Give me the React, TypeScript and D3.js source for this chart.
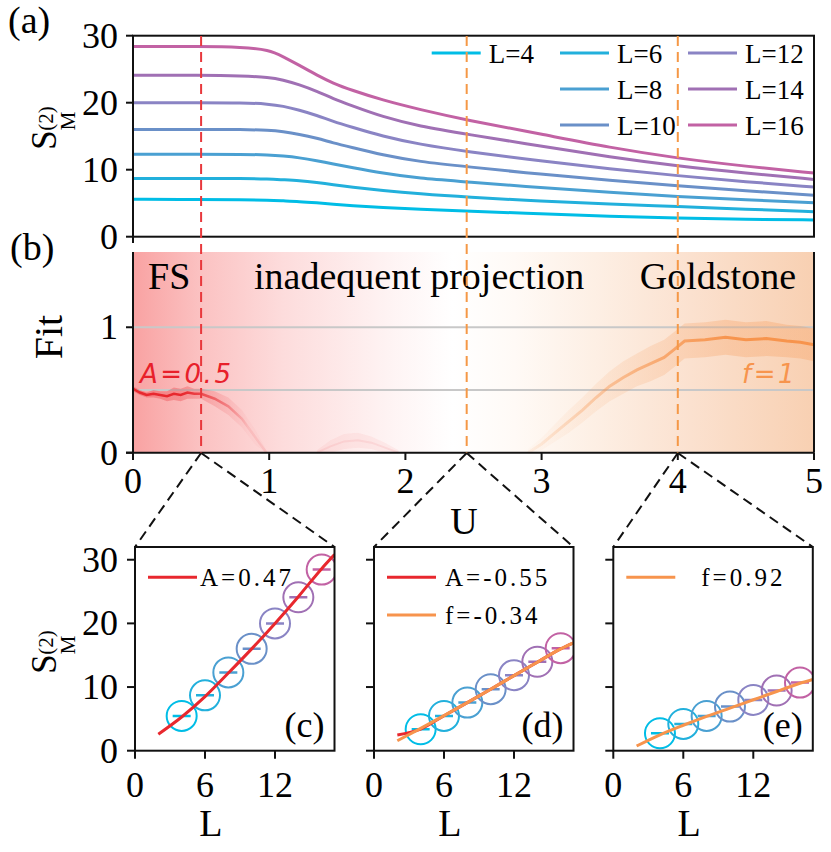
import React from "react";
import * as d3 from "d3";

// ---------- DATA ----------
const U_SAMPLES = [0, 0.5, 0.8, 1.0, 1.1, 1.22, 1.35, 1.47, 1.6, 1.83, 2.1, 2.45, 3.0, 3.5, 4.0, 4.5, 5.0];
const S_L4 = [5.6, 5.55, 5.5, 5.45, 5.35, 5.25, 5.05, 4.85, 4.65, 4.35, 4.1, 3.84, 3.4, 3.05, 2.75, 2.6, 2.5];
const S_L6 = [8.7, 8.7, 8.7, 8.6, 8.5, 8.4, 8.1, 7.75, 7.4, 6.9, 6.4, 5.9, 5.3, 4.85, 4.5, 4.1, 3.73];
const S_L8 = [12.3, 12.3, 12.3, 12.2, 12.05, 11.8, 11.35, 10.85, 10.35, 9.5, 8.7, 8.2, 7.3, 6.6, 6.0, 5.5, 5.07];
const S_L10 = [16.0, 16.0, 16.0, 15.9, 15.7, 15.3, 14.7, 14.0, 13.35, 12.2, 11.2, 10.45, 9.3, 8.4, 7.6, 6.85, 6.2];
const S_L12 = [20.0, 20.0, 20.0, 19.8, 19.5, 18.9, 18.1, 17.2, 16.4, 15.0, 13.8, 12.7, 11.3, 10.1, 9.1, 8.2, 7.4];
const S_L14 = [24.1, 24.1, 24.0, 23.8, 23.4, 22.7, 21.7, 20.6, 19.6, 17.9, 16.5, 15.3, 13.5, 11.9, 10.55, 9.5, 8.55];
const S_L16 = [28.4, 28.4, 28.3, 27.9, 26.9, 25.6, 24.1, 22.9, 21.9, 20.4, 19.0, 17.4, 15.3, 13.3, 11.7, 10.5, 9.5];
const L_VALUES = [4, 6, 8, 10, 12, 14, 16];
const L_LABELS = ["L=4", "L=6", "L=8", "L=10", "L=12", "L=14", "L=16"];
const L_COLORS = ["#00bde6", "#22b0dc", "#4aa0d2", "#6a90c8", "#8a84c4", "#a070b4", "#c262a4"];

// Fit panel (b)
const RED_U = [0, 0.05, 0.1, 0.15, 0.2, 0.25, 0.3, 0.35, 0.4, 0.45, 0.5, 0.55, 0.6, 0.7, 0.8, 0.9, 0.98];
const RED_FIT = [0.51, 0.48, 0.46, 0.47, 0.46, 0.45, 0.47, 0.46, 0.48, 0.47, 0.47, 0.45, 0.43, 0.37, 0.27, 0.12, 0.0];
const RED_ERR = [0.02, 0.02, 0.02, 0.03, 0.03, 0.04, 0.05, 0.05, 0.05, 0.04, 0.04, 0.05, 0.06, 0.07, 0.07, 0.06, 0.02];
const MID_U = [1.35, 1.45, 1.55, 1.65, 1.75, 1.85, 1.95];
const MID_FIT = [0.0, 0.05, 0.09, 0.1, 0.08, 0.04, 0.0];
const MID_ERR = [0.02, 0.05, 0.06, 0.06, 0.05, 0.04, 0.02];
const ORANGE_U = [2.9, 3.0, 3.1, 3.2, 3.3, 3.4, 3.5, 3.6, 3.7, 3.8, 3.9, 3.97, 4.05, 4.2, 4.35, 4.5, 4.65, 4.8, 4.9, 5.0];
const ORANGE_FIT = [0.0, 0.07, 0.16, 0.25, 0.34, 0.44, 0.53, 0.6, 0.66, 0.71, 0.76, 0.82, 0.89, 0.9, 0.92, 0.9, 0.91, 0.89, 0.88, 0.86];
const ORANGE_ERR = [0.03, 0.05, 0.07, 0.09, 0.1, 0.11, 0.12, 0.13, 0.13, 0.14, 0.14, 0.14, 0.14, 0.14, 0.14, 0.14, 0.14, 0.13, 0.13, 0.13];
const CUT_U = [0.5, 2.45, 4.0];
const CUT_COLORS = ["#e8383c", "#f59846", "#f59846"];

// Lower panels
const C_POINTS = [5.46, 8.7, 12.3, 16.0, 20.0, 24.1, 28.45];
const D_POINTS = [3.37, 5.46, 7.56, 9.66, 11.87, 13.97, 16.1];
const E_POINTS = [2.74, 4.2, 5.46, 6.93, 7.98, 9.45, 10.7];
const FIT_L = [2, 4, 6, 8, 10, 12, 14, 16, 17.1];
const C_FIT_A = [2.6, 5.3, 8.5, 12.2, 16.0, 20.0, 24.2, 28.6, 30.8];
const D_FIT_A = [2.47, 3.4, 5.5, 7.55, 9.65, 11.8, 13.9, 16.0, 16.95];
const D_FIT_F = [1.57, 3.5, 5.5, 7.55, 9.65, 11.8, 13.9, 16.0, 16.95];
const E_FIT_F = [0.74, 2.5, 4.0, 5.4, 6.7, 8.0, 9.3, 10.6, 11.2];
const A_TICKS = [0, 10, 20, 30];
const B_XTICKS = [0, 1, 2, 3, 4, 5];
const B_YTICKS = [0, 1];
const LOW_XTICKS = [0, 6, 12];
const LOW_YTICKS = [0, 10, 20, 30];

const SERIES_A = [S_L4, S_L6, S_L8, S_L10, S_L12, S_L14, S_L16];

const RED = "#e8282e";
const ORANGE = "#f7944d";
const SERIF = "'Liberation Serif', 'Times New Roman', serif";

function YLabel({ x, y }: { x: number; y: number }) {
  return (
    <text transform={`translate(${x},${y}) rotate(-90)`} textAnchor="middle" fontFamily={SERIF} fontSize={35}>
      S<tspan fontSize={21} dy={19}>M</tspan>
      <tspan fontSize={21} dx={-19} dy={-22}>(2)</tspan>
    </text>
  );
}

export default function App() {
  const W = 831, H = 852;
  const xU = d3.scaleLinear().domain([0, 5]).range([133, 814]);
  const yA = d3.scaleLinear().domain([0, 30]).range([236.7, 35.7]);
  const yB = d3.scaleLinear().domain([0, 1.6]).range([452.7, 252]);
  const lowLefts = [135, 374, 613.3];
  const lowW = 199.5;
  const lowTop = 547, lowBot = 750.7;
  const yL = d3.scaleLinear().domain([0, 32]).range([lowBot, lowTop]);

  const lineA = (vals: number[]) =>
    d3.line<number>().x((_, i) => xU(U_SAMPLES[i])).y((d) => yA(d)).curve(d3.curveBasis)(vals) as string;

  const bandPath = (us: number[], f: number[], e: number[]) =>
    d3.area<number>().x((_, i) => xU(us[i])).y0((d, i) => yB(Math.max(0, d - e[i]))).y1((d, i) => yB(d + e[i])).curve(d3.curveLinear)(f) as string;
  const fitPath = (us: number[], f: number[]) =>
    d3.line<number>().x((_, i) => xU(us[i])).y((d) => yB(d)).curve(d3.curveLinear)(f) as string;

  const tickFont = 36;

  const legCols = [431.7, 560, 688];
  const legRows = [53, 89, 125];
  const legPos = [[0, 0], [1, 0], [1, 1], [1, 2], [2, 0], [2, 1], [2, 2]];

  const renderLow = (idx: number, pts: number[], fits: { vals: number[]; color: string; label: string }[], tag: string) => {
    const left = lowLefts[idx];
    const xL = d3.scaleLinear().domain([0, 17.1]).range([left, left + lowW]);
    const fl = d3.line<number>().x((_, i) => xL(FIT_L[i])).y((d) => yL(d)).curve(d3.curveMonotoneX);
    const clipId = `clip-low-${idx}`;
    return (
      <g key={tag}>
        <defs>
          <clipPath id={clipId}>
            <rect x={left} y={lowTop} width={lowW} height={lowBot - lowTop} />
          </clipPath>
        </defs>
        <g clipPath={`url(#${clipId})`}>
          {pts.map((v, i) => (
            <g key={i}>
              <circle cx={xL(L_VALUES[i])} cy={yL(v)} r={15} fill="none" stroke={L_COLORS[i]} strokeWidth={2} />
              <line x1={xL(L_VALUES[i]) - 9} x2={xL(L_VALUES[i]) + 9} y1={yL(v)} y2={yL(v)} stroke={L_COLORS[i]} strokeWidth={2.5} />
            </g>
          ))}
          {fits.map((f, i) => (
            <path key={i} d={fl(f.vals) as string} fill="none" stroke={f.color} strokeWidth={3} />
          ))}
        </g>
        {fits.map((f, i) => (
          <g key={"lg" + i}>
            <line x1={left + 13} x2={left + 62} y1={577.3 + i * 37.7} y2={577.3 + i * 37.7} stroke={f.color} strokeWidth={3} />
            <text x={left + (idx === 2 ? 88 : idx === 1 ? 71 : 65)} y={586 + i * 37.7} fontFamily={SERIF} fontSize={25} letterSpacing={3} fill="#000">
              {f.label}
            </text>
          </g>
        ))}
        <text x={left + lowW - 10} y={lowBot - 14} textAnchor="end" fontFamily={SERIF} fontSize={36}>{`(${tag})`}</text>
        <rect x={left} y={lowTop} width={lowW} height={lowBot - lowTop} fill="none" stroke="#111" strokeWidth={2} />
        {LOW_XTICKS.map((t) => (
          <g key={"xt" + t}>
            <line x1={xL(t)} x2={xL(t)} y1={lowBot} y2={lowBot + 8} stroke="#111" strokeWidth={2} />
            <text x={xL(t)} y={797} textAnchor="middle" fontFamily={SERIF} fontSize={tickFont}>{t}</text>
          </g>
        ))}
        {LOW_YTICKS.map((t) => (
          <line key={"yt" + t} x1={left - 8} x2={left} y1={yL(t)} y2={yL(t)} stroke="#111" strokeWidth={2} />
        ))}
        <text x={xL(6.5)} y={836} textAnchor="middle" fontFamily={SERIF} fontSize={38}>L</text>
        <line x1={xU(CUT_U[idx])} y1={453} x2={left} y2={lowTop} stroke="#111" strokeWidth={2} strokeDasharray="10,6" />
        <line x1={xU(CUT_U[idx])} y1={453} x2={left + lowW} y2={lowTop} stroke="#111" strokeWidth={2} strokeDasharray="10,6" />
      </g>
    );
  };

  return (
    <svg width={W} height={H} style={{ position: "absolute", left: 0, top: 0, background: "#fff" }} xmlns="http://www.w3.org/2000/svg">
      <defs>
        <linearGradient id="bgB" x1="0" x2="1" y1="0" y2="0">
          <stop offset="0" stopColor="#f9a2a2" />
          <stop offset="0.1" stopColor="#fbc2c2" />
          <stop offset="0.22" stopColor="#fddcdc" />
          <stop offset="0.36" stopColor="#fef1f1" />
          <stop offset="0.47" stopColor="#ffffff" />
          <stop offset="0.56" stopColor="#fffaf6" />
          <stop offset="0.68" stopColor="#fdefe4" />
          <stop offset="0.82" stopColor="#fbe1cf" />
          <stop offset="1" stopColor="#f8d0b2" />
        </linearGradient>
        <linearGradient id="topB" x1="0" x2="1" y1="0" y2="0">
          <stop offset="0" stopColor="#9a2a2a" />
          <stop offset="0.2" stopColor="#e6cccc" />
          <stop offset="0.5" stopColor="#eeeeee" />
          <stop offset="0.8" stopColor="#d8c9be" />
          <stop offset="1" stopColor="#6e5444" />
        </linearGradient>
        <linearGradient id="redFade" gradientUnits="userSpaceOnUse" x1={xU(0.35)} x2={xU(0.85)} y1="0" y2="0">
          <stop offset="0" stopColor={RED} stopOpacity={1} />
          <stop offset="1" stopColor={RED} stopOpacity={0.1} />
        </linearGradient>
        <linearGradient id="orangeFade" gradientUnits="userSpaceOnUse" x1={xU(2.9)} x2={xU(4.4)} y1="0" y2="0">
          <stop offset="0" stopColor={ORANGE} stopOpacity={0.08} />
          <stop offset="1" stopColor={ORANGE} stopOpacity={1} />
        </linearGradient>
      </defs>

      {/* ---------- Panel (a) ---------- */}
      <text x={8} y={33} fontFamily={SERIF} fontSize={38}>(a)</text>
      {SERIES_A.map((s, i) => (
        <path key={i} d={lineA(s)} fill="none" stroke={L_COLORS[i]} strokeWidth={3} />
      ))}
      {L_LABELS.map((lab, i) => {
        const [c, r] = legPos[i];
        return (
          <g key={lab}>
            <line x1={legCols[c]} x2={legCols[c] + 49} y1={legRows[r]} y2={legRows[r]} stroke={L_COLORS[i]} strokeWidth={3} />
            <text x={legCols[c] + 57} y={legRows[r] + 9.5} fontFamily={SERIF} fontSize={27}>{lab}</text>
          </g>
        );
      })}
      <rect x={133} y={35.7} width={681} height={201} fill="none" stroke="#111" strokeWidth={2} />
      {A_TICKS.map((t) => (
        <g key={t}>
          <line x1={126} x2={133} y1={yA(t)} y2={yA(t)} stroke="#111" strokeWidth={2} />
          <text x={118} y={yA(t) + 12} textAnchor="end" fontFamily={SERIF} fontSize={tickFont}>{t}</text>
        </g>
      ))}
      <line x1={133} x2={133} y1={236.7} y2={243} stroke="#111" strokeWidth={2} />
      <YLabel x={56} y={128} />

      {/* ---------- Panel (b) ---------- */}
      <text x={10} y={260} fontFamily={SERIF} fontSize={38}>(b)</text>
      <rect x={133} y={252} width={681} height={200.7} fill="url(#bgB)" />
      <line x1={133} x2={814} y1={252} y2={252} stroke="url(#topB)" strokeWidth={2} />
      <line x1={133} x2={814} y1={yB(1)} y2={yB(1)} stroke="#c8c8c8" strokeWidth={2} />
      <line x1={133} x2={814} y1={yB(0.5)} y2={yB(0.5)} stroke="#c8c8c8" strokeWidth={2} />
      <path d={bandPath(MID_U, MID_FIT, MID_ERR)} fill={RED} fillOpacity={0.05} />
      <path d={fitPath(MID_U, MID_FIT)} fill="none" stroke={RED} strokeOpacity={0.08} strokeWidth={2} />
      <path d={bandPath(RED_U, RED_FIT, RED_ERR)} fill="url(#redFade)" fillOpacity={0.3} />
      <path d={fitPath(RED_U, RED_FIT)} fill="none" stroke="url(#redFade)" strokeWidth={2.5} />
      <path d={bandPath(ORANGE_U, ORANGE_FIT, ORANGE_ERR)} fill="url(#orangeFade)" fillOpacity={0.28} />
      <path d={fitPath(ORANGE_U, ORANGE_FIT)} fill="none" stroke="url(#orangeFade)" strokeWidth={3} />
      <text x={148} y={289} fontFamily={SERIF} fontSize={38}>FS</text>
      <text x={254} y={289} fontFamily={SERIF} fontSize={38}>inadequent projection</text>
      <text x={796} y={289} textAnchor="end" fontFamily={SERIF} fontSize={38}>Goldstone</text>
      <text x={140} y={383} fontFamily="'DejaVu Sans', sans-serif" fontStyle="italic" fontSize={26} letterSpacing={2.5} fill="#e8202a">A=0.5</text>
      <text x={797} y={383} textAnchor="end" fontFamily="'DejaVu Sans', sans-serif" fontStyle="italic" fontSize={26} letterSpacing={2.5} fill={ORANGE}>f=1</text>
      <line x1={133} x2={133} y1={252} y2={452.7} stroke="#111" strokeWidth={2} />
      <line x1={814} x2={814} y1={252} y2={452.7} stroke="#111" strokeWidth={2} />
      <line x1={126} x2={814} y1={452.7} y2={452.7} stroke="#111" strokeWidth={2} />
      {B_YTICKS.map((t) => (
        <g key={t}>
          <line x1={126} x2={133} y1={yB(t)} y2={yB(t)} stroke="#111" strokeWidth={2} />
          <text x={118} y={yB(t) + 12} textAnchor="end" fontFamily={SERIF} fontSize={tickFont}>{t}</text>
        </g>
      ))}
      {B_XTICKS.map((t) => (
        <g key={t}>
          <line x1={xU(t)} x2={xU(t)} y1={452.7} y2={460} stroke="#111" strokeWidth={2} />
          <text x={xU(t)} y={493} textAnchor="middle" fontFamily={SERIF} fontSize={tickFont}>{t}</text>
        </g>
      ))}
      <text transform={`translate(62,337) rotate(-90)`} textAnchor="middle" fontFamily={SERIF} fontSize={40}>Fit</text>
      <text x={464} y={534} textAnchor="middle" fontFamily={SERIF} fontSize={38}>U</text>

      {CUT_U.map((u, i) => (
        <line key={u} x1={xU(u)} x2={xU(u)} y1={36} y2={452.7} stroke={CUT_COLORS[i]} strokeWidth={2} strokeDasharray="10,6" />
      ))}

      {/* ---------- Lower panels ---------- */}
      {renderLow(0, C_POINTS, [{ vals: C_FIT_A, color: RED, label: "A=0.47" }], "c")}
      {renderLow(1, D_POINTS, [
        { vals: D_FIT_A, color: RED, label: "A=-0.55" },
        { vals: D_FIT_F, color: ORANGE, label: "f=-0.34" },
      ], "d")}
      {renderLow(2, E_POINTS, [{ vals: E_FIT_F, color: ORANGE, label: "f=0.92" }], "e")}
      {LOW_YTICKS.map((t) => (
        <text key={t} x={118} y={yL(t) + 12} textAnchor="end" fontFamily={SERIF} fontSize={tickFont}>{t}</text>
      ))}
      <YLabel x={56} y={652} />
    </svg>
  );
}
